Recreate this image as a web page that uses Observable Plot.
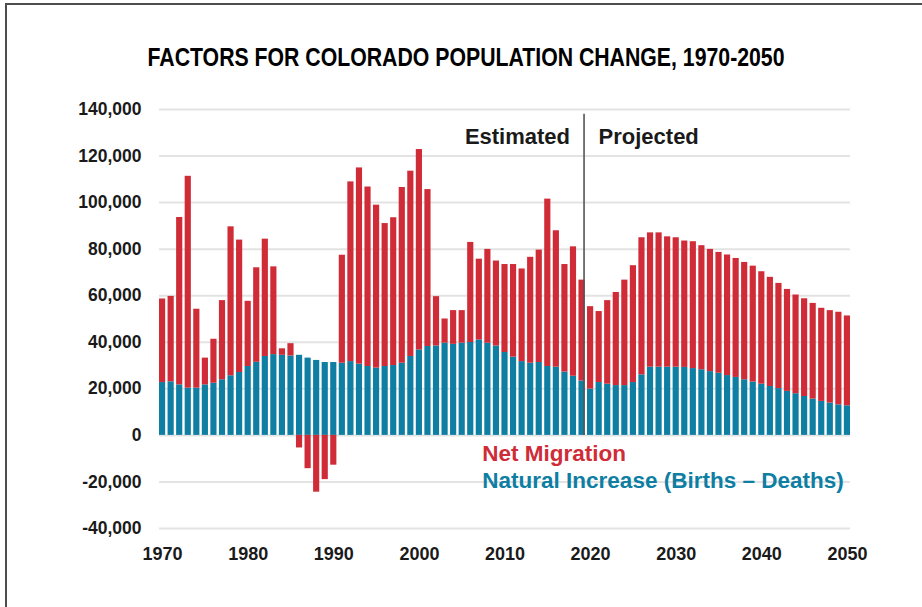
<!DOCTYPE html>
<html><head><meta charset="utf-8">
<script src="https://cdn.jsdelivr.net/npm/d3@7"></script>
<script src="https://cdn.jsdelivr.net/npm/@observablehq/plot@0.6"></script>
<style>
html,body{margin:0;padding:0;background:#fff;}
#page{position:relative;width:922px;height:607px;overflow:hidden;background:#fff;font-family:"Liberation Sans",Arial,Helvetica,sans-serif;}
#frame{position:absolute;left:5px;top:3px;right:-10px;bottom:-10px;border-top:2px solid #4d4d4d;border-left:2px solid #4d4d4d;z-index:2;pointer-events:none;}
#title{position:absolute;top:43px;left:466px;font-weight:bold;font-size:26px;line-height:28px;white-space:nowrap;color:#000;transform-origin:center;}
#chart{position:absolute;left:0;top:90px;z-index:1;}
</style></head>
<body>
<div id="page"><div id="frame"></div><div id="title">FACTORS FOR COLORADO POPULATION CHANGE, 1970-2050</div><div id="chart"></div></div>
<script>
const years = [1970,1971,1972,1973,1974,1975,1976,1977,1978,1979,
  1980,1981,1982,1983,1984,1985,1986,1987,1988,1989,
  1990,1991,1992,1993,1994,1995,1996,1997,1998,1999,
  2000,2001,2002,2003,2004,2005,2006,2007,2008,2009,
  2010,2011,2012,2013,2014,2015,2016,2017,2018,2019,
  2020,2021,2022,2023,2024,2025,2026,2027,2028,2029,
  2030,2031,2032,2033,2034,2035,2036,2037,2038,2039,
  2040,2041,2042,2043,2044,2045,2046,2047,2048,2049,2050];

// Natural increase (births - deaths)
const naturalIncrease = [22700,23000,21700,20300,20300,21700,22400,23900,25600,27000,
  29600,31400,33900,34700,34400,34100,34400,33200,32200,31300,
  31300,31000,31700,30600,29600,28900,29600,30000,31000,33900,
  36700,38200,38400,39600,39100,39600,39900,41000,39600,38400,
  35600,33600,31700,31000,31300,29600,29300,27200,25400,23400,
  19900,22700,22000,21400,21400,22700,26000,29300,29300,29300,
  29300,29200,28700,28200,27400,26700,25700,24900,23900,22900,
  22000,21000,20100,18900,17900,16700,15600,14600,13900,13100,12700];

// Net migration
const netMigration = [35900,36700,71900,91000,33900,11500,18900,34000,64000,56900,
  28000,40600,50400,37700,2800,5300,-5400,-14300,-24400,-19000,
  -12800,46400,77200,84300,77100,70000,61400,63500,75500,79600,
  86100,67400,21200,10400,14500,14000,43000,34700,40300,36500,
  37800,39800,39800,45500,48300,71900,58600,46200,55600,43300,
  35400,30500,35900,40000,45300,50200,58900,57700,57700,56000,
  55600,54300,54500,53300,52500,51900,51800,51100,50400,49800,
  48300,46900,45200,43800,42400,42000,41100,40000,39700,39800,38600];

const seriesNames = ["Natural Increase (Births – Deaths)", "Net Migration"];
const seriesColors = ["#0e7ea2", "#cf2c37"];
const xTicks = [1970,1980,1990,2000,2010,2020,2030,2040,2050];
const yTicks = [-40000,-20000,0,20000,40000,60000,80000,100000,120000,140000];
const dividerYear = 2019;
const phaseLabels = ["Estimated", "Projected"];

const rows = [];
years.forEach((yr, i) => {
  rows.push({year: yr, series: seriesNames[0], value: naturalIncrease[i]});
  rows.push({year: yr, series: seriesNames[1], value: netMigration[i]});
});

const FONT = '"Liberation Sans", Arial, Helvetica, sans-serif';

const chart = Plot.plot({
  width: 922,
  height: 517,
  marginLeft: 159,
  marginRight: 72,
  marginTop: 19,
  marginBottom: 79,
  style: {fontFamily: FONT, fontSize: "17.5px", fontWeight: "bold", color: "#1a1a1a", background: "transparent", overflow: "visible"},
  x: {type: "band", domain: years, paddingInner: 0.28, paddingOuter: 0, axis: null},
  y: {domain: [-40000, 140000], axis: null},
  color: {domain: seriesNames, range: seriesColors},
  marks: [
    Plot.ruleY(yTicks, {stroke: "#e3e3e3", strokeWidth: 2}),
    Plot.barY(rows, {x: "year", y: "value", fill: "series", order: seriesNames}),
    Plot.ruleX([dividerYear], {y1: 0, y2: 138000, dx: 2, stroke: "#555", strokeWidth: 1.6}),
    Plot.axisX({ticks: xTicks, tickSize: 0, tickPadding: 19, tickFormat: d => String(d), fontSize: 18, fontWeight: "bold"}),
    Plot.axisY({ticks: yTicks, tickSize: 0, tickPadding: 18, tickFormat: d => d.toLocaleString("en-US"), fontSize: 17.5, fontWeight: "bold"}),
    Plot.text([{x: dividerYear, y: 128000, t: phaseLabels[0]}], {x: "x", y: "y", text: "t", textAnchor: "end", dx: -12, fontSize: 22, fontWeight: "bold", fill: "#1a1a1a"}),
    Plot.text([{x: dividerYear, y: 128000, t: phaseLabels[1]}], {x: "x", y: "y", text: "t", textAnchor: "start", dx: 16.5, fontSize: 22, fontWeight: "bold", fill: "#1a1a1a"}),
    Plot.text([{x: 2007, y: -7900, t: seriesNames[1]}], {x: "x", y: "y", text: "t", textAnchor: "start", dx: 3, fontSize: 22.5, fontWeight: "bold", fill: seriesColors[1]}),
    Plot.text([{x: 2007, y: -19400, t: seriesNames[0]}], {x: "x", y: "y", text: "t", textAnchor: "start", dx: 3, fontSize: 22.5, fontWeight: "bold", fill: seriesColors[0]})
  ]
});
document.getElementById("chart").appendChild(chart);

const title = document.getElementById("title");
const w = title.getBoundingClientRect().width;
const s = 637 / w;
title.style.transform = `translateX(-50%) scaleX(${s})`;
</script>
</body></html>
